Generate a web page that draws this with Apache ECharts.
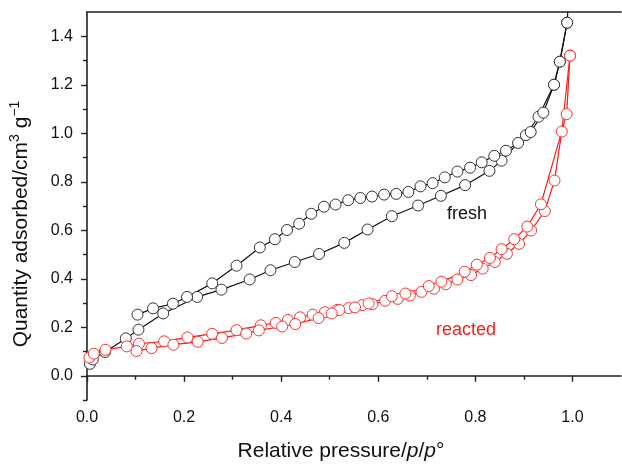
<!DOCTYPE html>
<html>
<head>
<meta charset="utf-8">
<script src="https://cdn.jsdelivr.net/npm/echarts@6/dist/echarts.min.js"></script>
<style>
  html, body { margin: 0; padding: 0; background: #fff; }
  #chart { width: 622px; height: 467px; }
</style>
</head>
<body>
<div id="chart"></div>
<script>
// fresh sample, adsorption (lower branch) and desorption (upper branch)
var freshAds = [[0.006,0.049],[0.012,0.067],[0.037,0.098],[0.08,0.154],[0.106,0.19],[0.157,0.257],
  [0.227,0.325],[0.277,0.355],[0.335,0.397],[0.378,0.435],[0.428,0.469],[0.478,0.502],[0.53,0.548],
  [0.578,0.603],[0.628,0.658],[0.682,0.702],[0.729,0.742],[0.779,0.786],[0.829,0.845],[0.854,0.887],
  [0.904,0.992],[0.93,1.068],[0.962,1.2],[0.974,1.295],[0.989,1.456],[0.994,1.62]];
var freshDes = [[0.989,1.456],[0.974,1.295],[0.962,1.2],[0.94,1.085],[0.914,1.005],[0.888,0.96],
  [0.863,0.928],[0.839,0.907],[0.813,0.88],[0.789,0.858],[0.763,0.842],[0.737,0.818],[0.712,0.794],
  [0.687,0.781],[0.662,0.758],[0.637,0.75],[0.612,0.747],[0.587,0.739],[0.563,0.733],[0.538,0.724],
  [0.512,0.706],[0.488,0.697],[0.462,0.668],[0.437,0.627],[0.412,0.601],[0.387,0.563],[0.356,0.529],
  [0.308,0.454],[0.258,0.381],[0.206,0.325],[0.177,0.297],[0.136,0.278],[0.104,0.252]];
// reacted sample
var reactedA = [[0.005,0.075],[0.014,0.091],[0.038,0.107],[0.082,0.121],[0.107,0.132],[0.159,0.142],
  [0.207,0.158],[0.258,0.173],[0.308,0.188],[0.358,0.208],[0.389,0.218],[0.414,0.23],[0.439,0.241],
  [0.465,0.252],[0.49,0.262],[0.515,0.271],[0.539,0.279],[0.567,0.291],[0.588,0.295],[0.614,0.309],
  [0.64,0.317],[0.665,0.331],[0.689,0.346],[0.715,0.359],[0.739,0.377],[0.763,0.397],[0.791,0.415],
  [0.815,0.442],[0.84,0.469],[0.865,0.503],[0.89,0.544],[0.915,0.599],[0.943,0.679],[0.963,0.805],
  [0.978,1.007],[0.995,1.32]];
var reactedB = [[0.995,1.32],[0.988,1.079],[0.935,0.707],[0.907,0.615],[0.88,0.563],[0.854,0.522],
  [0.83,0.486],[0.803,0.458],[0.778,0.429],[0.73,0.388],[0.704,0.37],[0.656,0.339],[0.628,0.328],
  [0.58,0.298],[0.552,0.282],[0.52,0.271],[0.504,0.257],[0.477,0.238],[0.429,0.213],[0.402,0.203],
  [0.354,0.187],[0.328,0.174],[0.278,0.156],[0.228,0.14],[0.178,0.128],[0.133,0.114],[0.102,0.102]];

var xMajor = [0, 0.2, 0.4, 0.6, 0.8, 1.0];
var xMinor = [0.1, 0.3, 0.5, 0.7, 0.9];
var yMajor = [0, 0.2, 0.4, 0.6, 0.8, 1.0, 1.2, 1.4];
var yMinor = [-0.1, 0.1, 0.3, 0.5, 0.7, 0.9, 1.1, 1.3];

var FONT = '"Liberation Sans", Arial, sans-serif';
var AXC = '#222';

var chart = echarts.init(document.getElementById('chart'));

function mkSeries(data, col, symCol) {
  return {
    type: 'line', data: data, clip: true,
    symbol: 'circle', symbolSize: 11,
    itemStyle: { color: '#fff', borderColor: symCol, borderWidth: 1 },
    lineStyle: { color: col, width: 1.2 },
    emphasis: { disabled: true },
    animation: false
  };
}

var baseX = { type: 'value', min: 0, max: 1.1, splitLine: { show: false } };
var baseY = { type: 'value', min: -0.1, max: 1.5, splitLine: { show: false } };

chart.setOption({
  backgroundColor: '#fff',
  animation: false,
  grid: { left: 87, right: 1, top: 12, bottom: 62 },
  xAxis: [
    Object.assign({}, baseX, {
      position: 'bottom',
      name: 'Relative pressure/{i|p}/{i|p}°',
      nameLocation: 'middle', nameGap: 41,
      nameTextStyle: { fontFamily: FONT, fontSize: 21, color: '#111', padding: [0, 26, 0, 0],
        rich: { i: { fontFamily: FONT, fontSize: 21, fontStyle: 'italic', color: '#111' } } },
      axisLine: { lineStyle: { color: AXC, width: 1.6 } },
      axisTick: { inside: false, length: 6, customValues: xMajor, lineStyle: { color: AXC, width: 1.4 } },
      axisLabel: { customValues: xMajor, fontFamily: FONT, fontSize: 16, color: '#111', margin: 10,
        formatter: function (v) { return v.toFixed(1); } }
    }),
    Object.assign({}, baseX, {
      position: 'bottom',
      axisLine: { show: false },
      axisTick: { length: 4, customValues: xMinor, lineStyle: { color: AXC, width: 1.4 } },
      axisLabel: { show: false }
    }),
    Object.assign({}, baseX, {
      position: 'top',
      axisLine: { lineStyle: { color: AXC, width: 1.6 } },
      axisTick: { show: false },
      axisLabel: { show: false }
    })
  ],
  yAxis: [
    Object.assign({}, baseY, {
      position: 'left',
      name: 'Quantity adsorbed/cm{sup|3} g{sup|−1}',
      nameLocation: 'middle', nameGap: 52,
      nameTextStyle: { fontFamily: FONT, fontSize: 21, color: '#111', lineHeight: 27, padding: [0, 36, 0, 0],
        rich: { sup: { fontFamily: FONT, fontSize: 14, color: '#111', verticalAlign: 'top', lineHeight: 27 } } },
      axisLine: { show: true, lineStyle: { color: AXC, width: 1.6 } },
      axisTick: { show: true, length: 6, customValues: yMajor, lineStyle: { color: AXC, width: 1.4 } },
      axisLabel: { customValues: yMajor, fontFamily: FONT, fontSize: 16, color: '#111', margin: 14,
        formatter: function (v) { return v.toFixed(1); } }
    }),
    Object.assign({}, baseY, {
      position: 'left',
      axisLine: { show: false },
      axisTick: { show: true, length: 4, customValues: yMinor, lineStyle: { color: AXC, width: 1.4 } },
      axisLabel: { show: false }
    })
  ],
  series: [
    mkSeries(freshAds, '#111', '#333'),
    mkSeries(freshDes, '#111', '#333'),
    mkSeries(reactedA, '#ff1a1a', '#ff3030'),
    mkSeries(reactedB, '#ff1a1a', '#ff3030')
  ],
  graphic: [
    { type: 'text', left: 447, top: 205,
      style: { text: 'fresh', fontFamily: FONT, fontSize: 18, fill: '#111' } },
    { type: 'text', left: 436, top: 321,
      style: { text: 'reacted', fontFamily: FONT, fontSize: 18, fill: '#ff1a1a' } }
  ]
});
</script>
</body>
</html>
